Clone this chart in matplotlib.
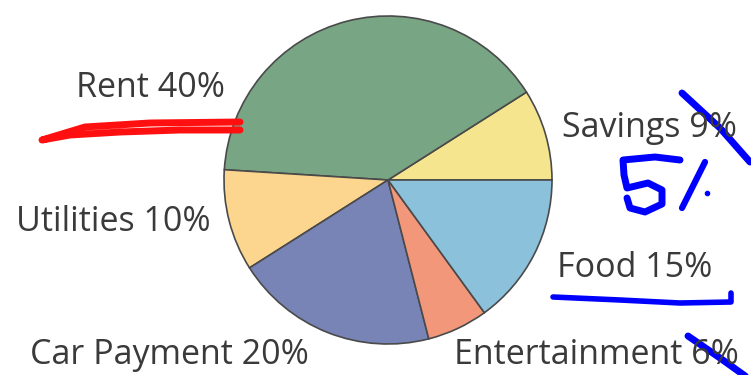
import matplotlib
matplotlib.use("Agg")
import matplotlib.pyplot as plt

categories = ["Savings", "Rent", "Utilities", "Car Payment", "Entertainment", "Food"]
values = [9, 40, 10, 20, 6, 15]
colors = ["#F4E58E", "#78A584", "#FCD68F", "#7883B6", "#F2977A", "#8CC1DC"]
labels = ["Savings 9%", "Rent 40%", "Utilities 10%", "Car Payment 20%", "Entertainment 6%", "Food 15%"]
label_pos = [(650, 128), (150, 88), (113, 222), (169, 355), (596, 355), (635, 268)]

W, H = 751, 375
fig = plt.figure(figsize=(W / 100, H / 100), dpi=100)
ax = fig.add_axes([0, 0, 1, 1])

cx, cy, r = 388, H - 180, 164
ax.pie(values, colors=colors, startangle=0, counterclock=True, center=(cx, cy), radius=r,
       wedgeprops=dict(edgecolor="#4a4a4a", linewidth=1.2), frame=True)
ax.set_xlim(0, W)
ax.set_ylim(0, H)
ax.set_aspect("equal")
ax.axis("off")

for t, (x, y) in zip(labels, label_pos):
    ax.text(x, H - y, t, ha="center", va="center", fontsize=24.5, color="#3a3a3a",
            family="Open Sans")

# hand-drawn annotations
def poly(pts, color, lw):
    xs = [p[0] for p in pts]
    ys = [H - p[1] for p in pts]
    ax.plot(xs, ys, color=color, lw=lw, solid_capstyle="round", solid_joinstyle="round")

poly([(240, 122), (150, 123), (85, 127), (42, 140), (70, 135), (120, 132), (180, 130), (240, 130)], "#FF1010", 5)
poly([(682, 93), (720, 128), (750, 162)], "#0000FF", 5)
poly([(688, 336), (720, 358), (748, 378)], "#0000FF", 5)
poly([(553, 297), (620, 300), (680, 303), (731, 302), (731, 293)], "#0000FF", 4)
# handwritten "5%"
poly([(680, 160), (655, 157), (623, 160), (624, 175), (627, 188), (648, 183), (662, 190), (662, 204), (645, 212), (630, 208), (627, 198)], "#0000FF", 5)
poly([(705, 162), (682, 208)], "#0000FF", 4.5)
ax.plot([707], [H - 193], "o", color="#0000FF", ms=3)

fig.savefig("out.png", dpi=100)
